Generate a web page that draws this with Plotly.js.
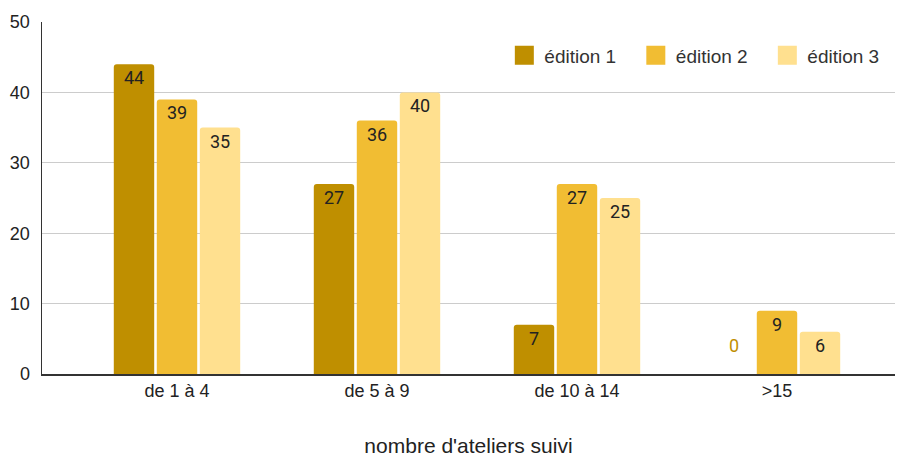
<!DOCTYPE html>
<html><head><meta charset="utf-8">
<script src="https://cdn.plot.ly/plotly-3.0.1.min.js"></script>
<style>html,body{margin:0;padding:0;background:#fff}#c{width:897px;height:457px}</style>
</head><body><div id="c"></div>
<script>
const categories = ["de 1 à 4", "de 5 à 9", "de 10 à 14", ">15"];
const seriesNames = ["édition 1", "édition 2", "édition 3"];
const edition1 = [44, 27, 7, 0];
const edition2 = [39, 36, 27, 9];
const edition3 = [35, 40, 25, 6];
const colors = ["#BF8F00", "#F1BD33", "#FFE08F"];
const xTitle = "nombre d'ateliers suivi";

const ARIAL = "Arial, 'Liberation Sans', sans-serif";
const ROBOTO = "Roboto, Arial, sans-serif";

const series = [edition1, edition2, edition3];
const traces = series.map((vals, i) => ({
  type: "bar",
  name: seriesNames[i],
  x: categories,
  y: vals,
  text: vals.map(v => v === 0 ? "" : String(v)),
  textposition: "inside",
  insidetextanchor: "end",
  textangle: 0,
  constraintext: "none",
  textfont: {family: ROBOTO, size: 18, color: "#222"},
  marker: {color: colors[i], cornerradius: 3},
  showlegend: false,
  hoverinfo: "none"
}));
// legend entries (square swatches)
series.forEach((vals, i) => {
  traces.push({
    type: "scatter", mode: "markers", name: seriesNames[i],
    x: [null], y: [null],
    marker: {symbol: "square", size: 16, color: colors[i], line: {color: colors[i], width: 3}},
    showlegend: true, hoverinfo: "none"
  });
});

const annotations = [];
series.forEach((vals, i) => {
  vals.forEach((v, j) => {
    if (v === 0) {
      annotations.push({
        x: categories[j], y: 0, xref: "x", yref: "y",
        text: String(v), showarrow: false,
        xshift: (i - 1) * 43.5, yshift: 29,
        font: {family: ROBOTO, size: 18, color: colors[i]}
      });
    }
  });
});

const layout = {
  width: 897, height: 457,
  margin: {l: 42, r: 2, t: 22, b: 83, autoexpand: false},
  paper_bgcolor: "#fff", plot_bgcolor: "#fff",
  barmode: "group", bargap: 0.355, bargroupgap: 0.06,
  font: {family: ARIAL, size: 16, color: "#222"},
  xaxis: {
    type: "category", range: [-0.675, 3.59], automargin: false,
    showline: true, linecolor: "#333", linewidth: 1.5,
    ticks: "", showgrid: false,
    tickfont: {family: ARIAL, size: 18, color: "#222"},
    title: {text: xTitle, font: {family: ARIAL, size: 21, color: "#222"}, standoff: 40}
  },
  yaxis: {
    range: [0, 50], dtick: 10, automargin: false,
    showline: true, linecolor: "#333", linewidth: 1.5,
    gridcolor: "#cccccc", gridwidth: 1, zeroline: false,
    ticks: "", tickfont: {family: ARIAL, size: 18, color: "#222"}, ticklabelstandoff: 7
  },
  legend: {
    orientation: "h", x: 0.542, xanchor: "left", y: 0.905, yanchor: "middle",
    font: {family: ARIAL, size: 19, color: "#333"}, bgcolor: "rgba(0,0,0,0)",
    itemwidth: 30, traceorder: "normal", entrywidth: 86.5, entrywidthmode: "pixels"
  },
  annotations: annotations,
  showlegend: true
};

Plotly.newPlot("c", traces, layout, {displayModeBar: false, staticPlot: true});
</script></body></html>
